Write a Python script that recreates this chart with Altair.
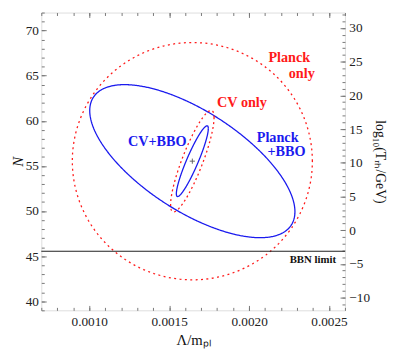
import altair as alt
import pandas as pd

# ---- data ----
# confidence ellipses: centre, sigma along Lambda/m_Pl, sigma along N, correlation
ell_names = ["Planck only", "Planck+BBO", "CV only", "CV+BBO"]
ell_cx = [0.001645, 0.001645, 0.001645, 0.001645]
ell_cy = [55.53, 55.53, 55.53, 55.53]
ell_sx = [0.000751, 0.000642, 0.000136, 0.000100]
ell_sy = [13.15, 8.48, 5.62, 3.92]
ell_rho = [0.0, -0.66, 0.86, 0.92]
ell_colors = ["#ff1a1a", "#1a1aee", "#ff1a1a", "#1a1aee"]
ell_dashes = [[2, 3.5], [1, 0], [2, 3], [1, 0]]

best_fit_x = [0.001645]
best_fit_N = [55.53]

bbn_N = [45.55]

label_text = ["Planck", "only", "CV only", "Planck", "+BBO", "CV+BBO", "BBN limit"]
label_x = [0.002121, 0.002248, 0.0018, 0.002048, 0.002115, 0.001242, 0.002254]
label_N = [66.93, 65.23, 61.94, 58.13, 56.54, 57.65, 44.56]
label_color = ["#ff1a1a", "#ff1a1a", "#ff1a1a", "#1a1aee", "#1a1aee", "#1a1aee", "#111111"]
label_size = [14.5, 14.5, 14.5, 14.5, 14.5, 14.5, 11]

x_domain = [0.0007, 0.0026]
N_domain = [39, 72]
T_domain = [-11.9, 32.3]

x_major = [0.0010, 0.0015, 0.0020, 0.0025]
x_minor = [0.0007, 0.0008, 0.0009, 0.0010, 0.0011, 0.0012, 0.0013, 0.0014, 0.0015,
           0.0016, 0.0017, 0.0018, 0.0019, 0.0020, 0.0021, 0.0022, 0.0023, 0.0024,
           0.0025, 0.0026]
N_major = [40, 45, 50, 55, 60, 65, 70]
N_minor = list(range(39, 73))
T_major = [-10, -5, 0, 5, 10, 15, 20, 25, 30]
T_minor = list(range(-11, 33))

SERIF = "Liberation Serif"
TICK = "#777777"

xs = alt.Scale(domain=x_domain, nice=False, zero=False)
ys = alt.Scale(domain=N_domain, nice=False, zero=False)
ts = alt.Scale(domain=T_domain, nice=False, zero=False)


def major_axis(orient, values, labels=True, title=None, fmt=None, **kw):
    args = dict(orient=orient, values=values, offset=-5, tickSize=5, domain=False,
                grid=False, labels=labels, tickColor=TICK, labelFont=SERIF,
                labelFontSize=13.5, labelColor="#222222", labelPadding=4,
                labelFlush=False, labelOverlap=False)
    if fmt:
        args["format"] = fmt
    if title:
        args.update(title=title, titleFont=SERIF, titleFontSize=15,
                     titleFontWeight="normal", titleColor="#111111")
    else:
        args["title"] = ""
    args.update(kw)
    return alt.Axis(**args)


def minor_axis(orient, values):
    return alt.Axis(orient=orient, values=values, offset=-3, tickSize=3, domain=False,
                    grid=False, labels=False, title="", tickColor=TICK)


ell_df = pd.DataFrame({"name": ell_names, "cx": ell_cx, "cy": ell_cy,
                       "sx": ell_sx, "sy": ell_sy, "rho": ell_rho})

ellipses = alt.Chart(ell_df).transform_calculate(
    a="sequence(0, 361, 2)"
).transform_flatten(["a"]).transform_calculate(
    t="datum.a * PI / 180",
    x="datum.cx + datum.sx * cos(datum.t)",
    N="datum.cy + datum.sy * (datum.rho * cos(datum.t) + sqrt(1 - datum.rho * datum.rho) * sin(datum.t))",
).mark_line(strokeWidth=1.3, clip=True).encode(
    x=alt.X("x:Q", scale=xs,
            axis=major_axis("bottom", x_major, title="Λ/mₚₗ", fmt=".4f", titlePadding=5)),
    y=alt.Y("N:Q", scale=ys,
            axis=major_axis("left", N_major, title="N", fmt="d", titleFontStyle="italic",
                            titlePadding=0, labelPadding=3)),
    color=alt.Color("name:N", scale=alt.Scale(domain=ell_names, range=ell_colors), legend=None),
    strokeDash=alt.StrokeDash("name:N", scale=alt.Scale(domain=ell_names, range=ell_dashes),
                              legend=None),
    order=alt.Order("a:Q"),
)

dummy_N = pd.DataFrame({"x": [0.0015], "y": [50]})
dummy_T = pd.DataFrame({"x": [0.0015], "y": [10]})

minor_left_bottom = alt.Chart(dummy_N).mark_point(opacity=0).encode(
    x=alt.X("x:Q", scale=xs, axis=minor_axis("bottom", x_minor)),
    y=alt.Y("y:Q", scale=ys, axis=minor_axis("left", N_minor)),
)

right_top_major = alt.Chart(dummy_T).mark_point(opacity=0).encode(
    x=alt.X("x:Q", scale=xs, axis=major_axis("top", x_major, labels=False)),
    y=alt.Y("y:Q", scale=ts,
            axis=major_axis("right", T_major, title="log₁₀(Tᵣₕ/GeV)", fmt="d",
                            titlePadding=3, titleFontSize=14)),
)

right_top_minor = alt.Chart(dummy_T).mark_point(opacity=0).encode(
    x=alt.X("x:Q", scale=xs, axis=minor_axis("top", x_minor)),
    y=alt.Y("y:Q", scale=ts, axis=minor_axis("right", T_minor)),
)

bbn = alt.Chart(pd.DataFrame({"N": bbn_N})).mark_rule(color="#222222", strokeWidth=1.2).encode(
    y=alt.Y("N:Q", scale=ys, axis=None),
)

best = alt.Chart(pd.DataFrame({"x": best_fit_x, "N": best_fit_N})).mark_point(
    shape="M-1,0H1M0,-1V1", size=28, filled=False, stroke="#111111", strokeWidth=0.9
).encode(
    x=alt.X("x:Q", scale=xs, axis=None),
    y=alt.Y("N:Q", scale=ys, axis=None),
)

labels_df = pd.DataFrame({"text": label_text, "x": label_x, "N": label_N,
                          "color": label_color, "size": label_size})
labels = alt.Chart(labels_df).mark_text(
    align="left", baseline="middle", font=SERIF, fontWeight="bold"
).encode(
    x=alt.X("x:Q", scale=xs, axis=None),
    y=alt.Y("N:Q", scale=ys, axis=None),
    text="text:N",
    color=alt.Color("color:N", scale=None),
    size=alt.Size("size:Q", scale=None),
)

chart = alt.layer(
    ellipses, minor_left_bottom, right_top_major, right_top_minor, bbn, best, labels
).resolve_scale(
    x="independent", y="independent"
).resolve_axis(
    x="independent", y="independent"
).properties(
    width=310, height=304,
    autosize=alt.AutoSizeParams(type="none"),
    padding={"left": 34, "top": 1, "right": 47, "bottom": 44},
).configure_view(
    stroke="#888888", strokeWidth=1
).configure(background="white")

chart.save("out.html", embed_options={"renderer": "svg", "actions": False})
